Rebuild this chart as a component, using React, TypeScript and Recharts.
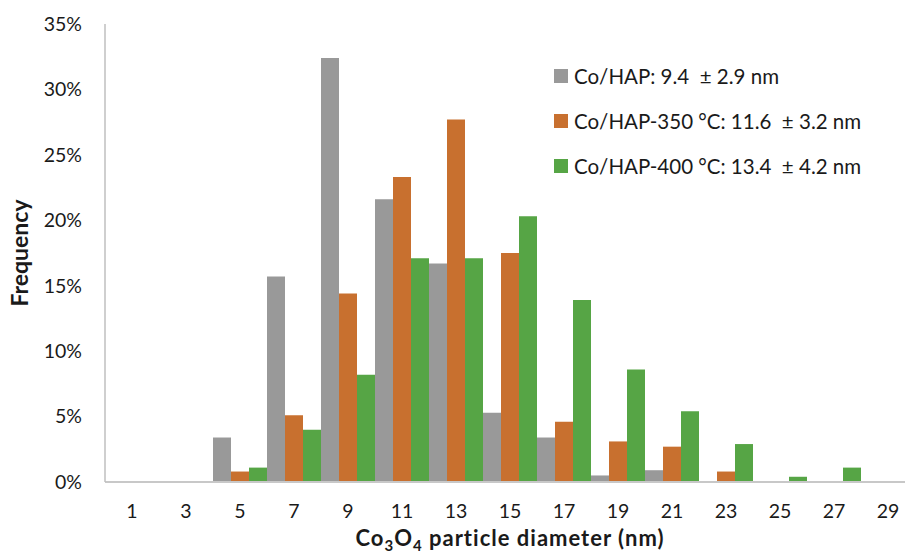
import React from 'react';
import { BarChart, Bar, XAxis, YAxis, Label } from 'recharts';

const diameters = ['1', '3', '5', '7', '9', '11', '13', '15', '17', '19', '21', '23', '25', '27', '29'];
const coHap = [0, 0, 3.4, 15.7, 32.4, 21.6, 16.7, 5.3, 3.4, 0.5, 0.9, 0, 0, 0, 0];
const coHap350 = [0, 0, 0.8, 5.1, 14.4, 23.3, 27.7, 17.5, 4.6, 3.1, 2.7, 0.8, 0, 0, 0];
const coHap400 = [0, 0, 1.1, 4.0, 8.2, 17.1, 17.1, 20.3, 13.9, 8.6, 5.4, 2.9, 0.4, 1.1, 0];
const yTicks = [0, 5, 10, 15, 20, 25, 30, 35];

const seriesNames = [
  'Co/HAP: 9.4  \u00b1 2.9 nm',
  'Co/HAP-350 \u00b0C: 11.6  \u00b1 3.2 nm',
  'Co/HAP-400 \u00b0C: 13.4  \u00b1 4.2 nm',
];
const colors = ['#999999', '#C8702F', '#56A545'];

const data = diameters.map((d, i) => ({
  d,
  a: coHap[i],
  b: coHap350[i],
  c: coHap400[i],
}));

const FONT = 'Lato, "Open Sans", sans-serif';

const LegendBox = () => (
  <div
    style={{
      position: 'absolute',
      left: 554,
      top: 53,
      fontFamily: FONT,
      fontSize: 20.5,
      color: '#1a1a1a',
    }}
  >
    {seriesNames.map((n, i) => (
      <div key={n} style={{ display: 'flex', alignItems: 'center', height: 45 }}>
        <span style={{ display: 'inline-block', width: 14, height: 14, background: colors[i], marginRight: 6 }} />
        <span style={{ whiteSpace: 'pre' }}>{n}</span>
      </div>
    ))}
  </div>
);

const XTitle = (props: any) => {
  const vb = props.viewBox || {};
  const cx = vb.x + vb.width / 2;
  const y = vb.y + vb.height - 10;
  return (
    <text
      x={cx}
      y={y}
      textAnchor="middle"
      fontFamily={FONT}
      fontWeight="bold"
      fontSize={22}
      letterSpacing={1}
      fill="#1a1a1a"
    >
      <tspan>Co</tspan>
      <tspan fontSize={15} dy={5}>3</tspan>
      <tspan dy={-5}>O</tspan>
      <tspan fontSize={15} dy={5}>4</tspan>
      <tspan dy={-5}> particle diameter (nm)</tspan>
    </text>
  );
};

export default function App() {
  return (
    <div style={{ position: 'absolute', left: 0, top: 0, width: 905, height: 556, overflow: 'hidden', background: '#fff' }}>
      <BarChart
        width={915}
        height={556}
        data={data}
        margin={{ top: 24, right: 0, bottom: 0, left: 0 }}
        barCategoryGap={0}
        barGap={0}
      >
        <XAxis
          xAxisId="top"
          dataKey="d"
          orientation="top"
          height={0}
          tick={false}
          tickLine={false}
          axisLine={{ stroke: '#BFBFBF', strokeWidth: 1.5 }}
        />
        <XAxis
          dataKey="d"
          height={74}
          tickLine={false}
          tickSize={0}
          tickMargin={22}
          axisLine={{ stroke: '#C8C8C8', strokeWidth: 2 }}
          tick={{ fontFamily: FONT, fontSize: 19.5, fill: '#1a1a1a' }}
          interval={0}
        >
          <Label content={<XTitle />} />
        </XAxis>
        <YAxis
          width={105}
          domain={[0, 35]}
          ticks={yTicks}
          tickFormatter={(v: number) => `${v}%`}
          tickLine={false}
          tickSize={0}
          tickMargin={23}
          axisLine={{ stroke: '#BFBFBF', strokeWidth: 1.5 }}
          tick={{ fontFamily: FONT, fontSize: 19.5, fill: '#1a1a1a' }}
          interval={0}
        >
          <Label
            value="Frequency"
            angle={-90}
            position="insideLeft"
            offset={20}
            style={{ textAnchor: 'middle', fontFamily: FONT, fontWeight: 'bold', fontSize: 23, fill: '#1a1a1a' }}
          />
        </YAxis>
        <Bar dataKey="a" name={seriesNames[0]} fill={colors[0]} isAnimationActive={false} />
        <Bar dataKey="b" name={seriesNames[1]} fill={colors[1]} isAnimationActive={false} />
        <Bar dataKey="c" name={seriesNames[2]} fill={colors[2]} isAnimationActive={false} />
      </BarChart>
      <LegendBox />
    </div>
  );
}
